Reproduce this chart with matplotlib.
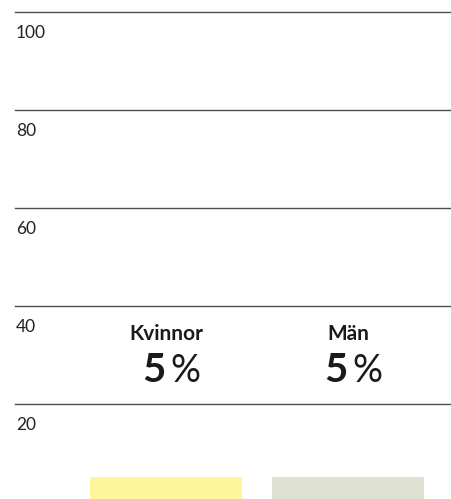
import matplotlib
matplotlib.use("Agg")
import matplotlib.pyplot as plt
from matplotlib.transforms import blended_transform_factory

categories = ["Kvinnor", "Män"]
values = [5, 5]
bar_colors = ["#FFF59D", "#DFE1D0"]
grid_values = [20, 40, 60, 80, 100]

plt.rcParams["font.family"] = ["Lato", "DejaVu Sans"]

fig = plt.figure(figsize=(4.51, 4.99), dpi=100)
ax = fig.add_axes([15 / 451, 0, 436 / 451, 487 / 499])
ax.set_xlim(-0.83, 1.566)
ax.set_ylim(0.61, 100)
for spine in ax.spines.values():
    spine.set_visible(False)
ax.set_xticks([])
ax.set_yticks([])

x = list(range(len(categories)))
ax.bar(x, values, width=0.835, color=bar_colors, zorder=2)

trans = blended_transform_factory(ax.transAxes, ax.transData)
for g in grid_values:
    ax.axhline(g, color="#4d4d4d", linewidth=1.0, zorder=1, clip_on=False)
    ax.annotate(str(g), xy=(0.002, g), xycoords=trans, xytext=(0, -18.5),
                textcoords="offset points", ha="left", va="baseline",
                fontsize=12.5, color="#222222")

for xi, cat, v in zip(x, categories, values):
    ax.annotate(cat, xy=(xi, 33), xycoords="data", ha="center", va="baseline",
                fontsize=15, fontweight="bold", color="#1a1a1a")
    ax.annotate(str(v), xy=(xi, 24.5), xycoords="data", xytext=(0, 0),
                textcoords="offset points", ha="right", va="baseline",
                fontsize=29, fontweight="bold", color="#1a1a1a")
    ax.annotate("%", xy=(xi, 24.5), xycoords="data", xytext=(3, 0),
                textcoords="offset points", ha="left", va="baseline",
                fontsize=27, fontweight="normal", color="#1a1a1a")

fig.savefig("out.png", dpi=100)
